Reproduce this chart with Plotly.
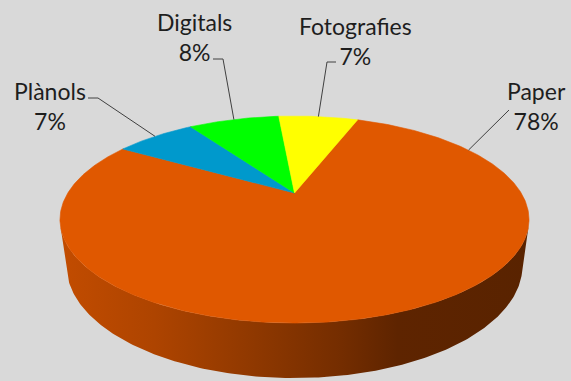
import numpy as np
import plotly.graph_objects as go

# Share of holdings by material type
labels = ["Paper", "Plànols", "Digitals", "Fotografies"]
values = [78, 7, 8, 7]

slice_colors = ["#E05800", "#0099CC", "#00FF00", "#FFFF00"]
first_slice_angle = 20.2  # degrees clockwise from 12 o'clock

W, H = 571, 381
CX, CY = 294.5, 193.0          # screen position of the pie centre
ELEV = np.radians(25.25)       # camera elevation
DIST = 3.527                   # camera distance (pie radius = 1)
FOCAL = 799.6                  # projection scale in pixels
THICK = 0.2237                 # pie thickness (pie radius = 1)
SIN_E, COS_E = np.sin(ELEV), np.cos(ELEV)


def project(theta_deg, z=0.0, r=1.0):
    """Perspective projection of a point on the pie (theta clockwise from 12 o'clock)."""
    th = np.radians(theta_deg)
    X = r * np.sin(th)
    Y = r * np.cos(th)
    depth = DIST + Y * COS_E - z * SIN_E
    sx = FOCAL * X / depth
    sy = FOCAL * (Y * SIN_E + z * COS_E) / depth
    return CX + sx, CY - sy


def shade(hex_color, f):
    h = hex_color.lstrip("#")
    r, g, b = (int(h[i:i + 2], 16) for i in (0, 2, 4))
    return "rgb({},{},{})".format(int(r * f), int(g * f), int(b * f))


total = sum(values)
bounds = np.concatenate([[0], np.cumsum(values)]) / total * 360 + first_slice_angle

fig = go.Figure()

# visible part of the cylinder wall (outward normal faces the camera)
vis = np.degrees(np.arccos(-1.0 / (DIST * COS_E)))
vis_lo, vis_hi = vis, 360 - vis
xl, _ = project(vis_hi)
xr, _ = project(vis_lo)

for i in range(len(values)):
    a, b = bounds[i], bounds[i + 1]
    for k in (-360, 0, 360):
        lo = max(a + k, vis_lo)
        hi = min(b + k, vis_hi)
        if hi <= lo:
            continue
        th = np.linspace(lo, hi, 200)
        tx, ty = project(th, 0.0)
        bx, by = project(th[::-1], -THICK)
        c = slice_colors[i]
        fig.add_trace(go.Scatter(
            x=np.concatenate([tx, bx, tx[:1]]),
            y=np.concatenate([ty, by, ty[:1]]),
            mode="lines", line=dict(width=0), fill="toself",
            fillgradient=dict(
                type="horizontal", start=xl, stop=xr,
                colorscale=[[0.0, shade(c, 0.87)], [0.2, shade(c, 0.78)],
                            [0.4, shade(c, 0.65)], [0.6, shade(c, 0.52)],
                            [0.72, shade(c, 0.42)], [1.0, shade(c, 0.40)]]),
            hoverinfo="skip", showlegend=False))

# top face slices
for i in range(len(values)):
    th = np.linspace(bounds[i], bounds[i + 1], max(int((bounds[i + 1] - bounds[i]) * 2), 8))
    ax, ay = project(th, 0.0)
    px = np.concatenate([[CX], ax, [CX]])
    py = np.concatenate([[CY], ay, [CY]])
    fig.add_trace(go.Scatter(
        x=px, y=py, mode="lines", line=dict(width=0.6, color=slice_colors[i]),
        fill="toself", fillcolor=slice_colors[i],
        hoverinfo="skip", showlegend=False))

# data labels with leader lines
label_pos = {"Paper": (536, 106), "Plànols": (50, 106),
             "Digitals": (194, 37), "Fotografies": (355, 41)}
leader_start = {"Paper": [(509, 110)], "Plànols": [(88, 98), (98, 98)],
                "Digitals": [(213, 59), (223, 59)], "Fotografies": [(336, 62), (327, 62)]}
leader_angle = {"Paper": 60.0}

for i, lab in enumerate(labels):
    pct = "{}%".format(round(100 * values[i] / total))
    x0, y0 = label_pos[lab]
    fig.add_annotation(x=x0, y=y0, text=lab + "<br>" + pct, showarrow=False,
                       xanchor="center", yanchor="middle", align="center",
                       font=dict(family="Lato", size=23, color="#1e1e1e"))
    ang = leader_angle.get(lab, (bounds[i] + bounds[i + 1]) / 2)
    ex, ey = project(ang, 0.0)
    pts = leader_start[lab] + [(ex, ey)]
    path = "M " + " L ".join("{:.1f},{:.1f}".format(p[0], p[1]) for p in pts)
    fig.add_shape(type="path", path=path, xref="x", yref="y",
                  line=dict(color="#404040", width=1))

fig.update_layout(
    width=W, height=H, margin=dict(l=0, r=0, t=0, b=0),
    paper_bgcolor="#D9D9D9", plot_bgcolor="#D9D9D9",
    xaxis=dict(range=[0, W], visible=False, fixedrange=True),
    yaxis=dict(range=[H, 0], visible=False, fixedrange=True),
    showlegend=False,
)

fig.write_html("out.html")
